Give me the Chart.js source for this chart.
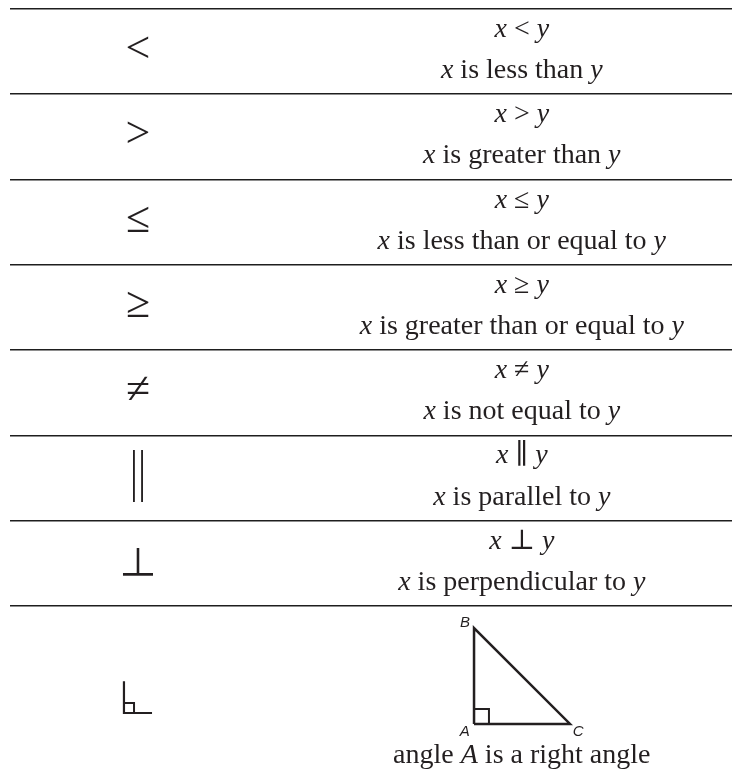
<!DOCTYPE html>
<html>
<head>
<meta charset="utf-8">
<script src="https://cdn.jsdelivr.net/npm/chart.js@4.4.1/dist/chart.umd.min.js"></script>
<style>
  html, body { margin: 0; padding: 0; background: #ffffff; }
  #wrap { position: relative; width: 732px; height: 783px; }
</style>
</head>
<body>
<div id="wrap"><canvas id="c"></canvas></div>
<script>
// ---- data ----
const rowEdges = [0, 1, 2, 3, 4, 5, 6, 7];
const symbols = ['<', '>', '≤', '≥', '≠', '‖', '⊥'];
const relations = ['<', '>', '≤', '≥', '≠', '∥', '⊥'];
const meanings = ['is less than', 'is greater than', 'is less than or equal to',
  'is greater than or equal to', 'is not equal to', 'is parallel to', 'is perpendicular to'];
const captionParts = ['angle ', 'A', ' is a right angle'];
// right triangle ABC (A is the right angle), in row units
const triangleX = [5.44, 5.44, 6.565, 5.44];
const triangleY = [8.382, 7.257, 8.382, 8.382];
const triSquareX = [5.44, 5.615, 5.615];
const triSquareY = [8.207, 8.207, 8.382];
const triLabels = ['A', 'B', 'C'];
const triLabelX = [5.33, 5.334, 6.66];
const triLabelY = [8.476, 7.198, 8.476];
// right-angle symbol
const angleSymX = [1.336, 1.336, 1.665];
const angleSymY = [7.88, 8.253, 8.253];
const angleSqX = [1.336, 1.454, 1.454];
const angleSqY = [8.136, 8.136, 8.253];

// ---- layout / style constants ----
const INK = '#231f20';
const SYMBOL_COL = 1.5;
const TEXT_COL = 6.0;
const SERIF = '"Liberation Serif", "DejaVu Serif", serif';
const FS = 28;
const SYMBOL_FONT_DEFAULT = '44px "Liberation Serif", "DejaVu Sans", serif';
const SYMBOL_FONT_SPECIAL = {
  '‖': '52px "Noto Sans CJK SC", "Liberation Serif", sans-serif',
  '⊥': '38px "Noto Sans CJK SC", "DejaVu Sans", sans-serif'
};

function pts(xs, ys) { return xs.map((v, i) => ({ x: v, y: ys[i] })); }

function drawRich(ctx, parts, cx, baseline) {
  let total = 0;
  const widths = parts.map(p => {
    ctx.font = (p.i ? 'italic ' : '') + FS + 'px ' + SERIF;
    const w = ctx.measureText(p.t).width; total += w; return w;
  });
  let xPos = cx - total / 2;
  ctx.textAlign = 'left';
  ctx.textBaseline = 'alphabetic';
  parts.forEach((p, k) => {
    ctx.font = (p.i ? 'italic ' : '') + FS + 'px ' + SERIF;
    ctx.fillText(p.t, xPos, baseline);
    xPos += widths[k];
  });
}

const tablePlugin = {
  id: 'tableText',
  afterDatasetsDraw(chart) {
    const { ctx, scales: { x, y } } = chart;
    ctx.save();
    ctx.fillStyle = INK;
    const cx = x.getPixelForValue(TEXT_COL);
    symbols.forEach((s, i) => {
      ctx.font = SYMBOL_FONT_SPECIAL[s] || SYMBOL_FONT_DEFAULT;
      ctx.textAlign = 'center';
      ctx.textBaseline = 'middle';
      ctx.fillText(s, x.getPixelForValue(SYMBOL_COL), y.getPixelForValue(i + 0.48));
      drawRich(ctx, [{ t: 'x', i: true }, { t: ' ' + relations[i] + ' ', i: false }, { t: 'y', i: true }],
        cx, y.getPixelForValue(i + 0.328));
      drawRich(ctx, [{ t: 'x', i: true }, { t: ' ' + meanings[i] + ' ', i: false }, { t: 'y', i: true }],
        cx, y.getPixelForValue(i + 0.809));
    });
    drawRich(ctx, [{ t: captionParts[0], i: false }, { t: captionParts[1], i: true }, { t: captionParts[2], i: false }],
      cx, y.getPixelForValue(8.84));
    ctx.font = 'italic 15px "Liberation Sans", Arial, sans-serif';
    ctx.textAlign = 'center';
    ctx.textBaseline = 'middle';
    triLabels.forEach((l, i) => {
      ctx.fillText(l, x.getPixelForValue(triLabelX[i]), y.getPixelForValue(triLabelY[i]));
    });
    ctx.restore();
  }
};

const lineStyle = { showLine: true, fill: false, pointRadius: 0, borderColor: INK, borderJoinStyle: 'miter', borderCapStyle: 'butt' };

new Chart(document.getElementById('c'), {
  type: 'scatter',
  data: {
    datasets: [
      Object.assign({ label: 'triangle', data: pts(triangleX, triangleY), borderWidth: 2.5 }, lineStyle),
      Object.assign({ label: 'triangle right angle', data: pts(triSquareX, triSquareY), borderWidth: 2 }, lineStyle),
      Object.assign({ label: 'angle symbol', data: pts(angleSymX, angleSymY), borderWidth: 2.2 }, lineStyle),
      Object.assign({ label: 'angle symbol square', data: pts(angleSqX, angleSqY), borderWidth: 2 }, lineStyle)
    ]
  },
  options: {
    responsive: true,
    maintainAspectRatio: false,
    animation: false,
    layout: { padding: { top: 9, left: 10, right: 0, bottom: 0 } },
    plugins: { legend: { display: false }, tooltip: { enabled: false } },
    scales: {
      x: { type: 'linear', min: 0, max: 722 / 85.3, display: false },
      y: {
        type: 'linear', min: 0, max: 774 / 85.3, reverse: true,
        afterBuildTicks: (axis) => { axis.ticks = rowEdges.map(v => ({ value: v })); },
        ticks: { display: false },
        border: { display: false },
        grid: { color: '#1e1e1e', lineWidth: 1.6, drawTicks: false, tickLength: 0 }
      }
    }
  },
  plugins: [tablePlugin]
});
</script>
</body>
</html>
